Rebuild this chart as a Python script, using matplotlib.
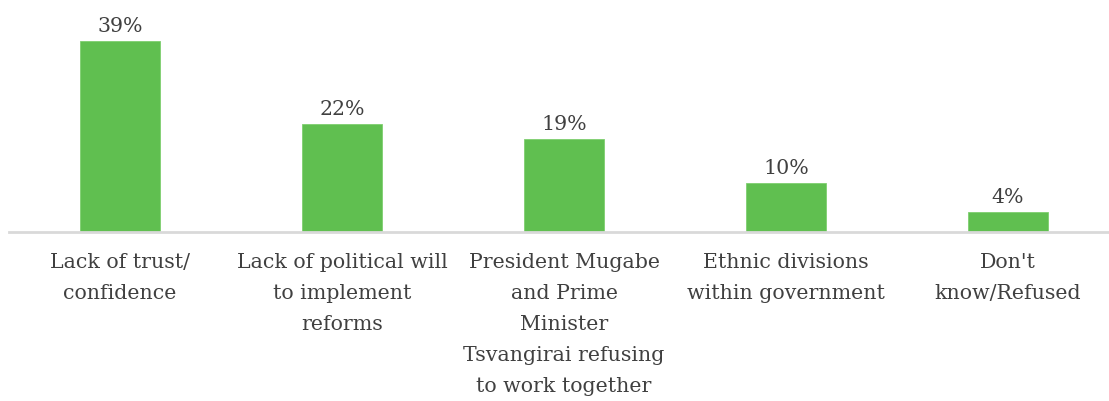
import numpy as np
import matplotlib.pyplot as plt

categories = [
    "Lack of trust/\nconfidence",
    "Lack of political will\nto implement\nreforms",
    "President Mugabe\nand Prime\nMinister\nTsvangirai refusing\nto work together",
    "Ethnic divisions\nwithin government",
    "Don't\nknow/Refused",
]
values = [39, 22, 19, 10, 4]

W, H = 1109, 402
fig = plt.figure(figsize=(W / 100, H / 100), dpi=100)
# axes spans -0.5..4.5 from x=9px to x=1119px, baseline at y=233px
ax = fig.add_axes([9 / W, (H - 233) / H, 1110 / W, 220.5 / H])

x = np.arange(len(values))
bars = ax.bar(x, values, width=0.36, color="#60BF50", edgecolor="#7fcf70", linewidth=0.6)

font = "DejaVu Serif"
fs = 14.8
for rect, v in zip(bars, values):
    ax.annotate(f"{v}%", (rect.get_x() + rect.get_width() / 2, v),
                xytext=(0, 4.5), textcoords="offset points",
                ha="center", va="bottom", fontsize=fs, color="#404040", family=font)

ax.set_xlim(-0.5, 4.5)
ax.set_ylim(0, 45)
ax.set_xticks(x)
ax.set_xticklabels(categories, fontsize=fs, color="#404040", family=font, linespacing=1.8)
ax.tick_params(axis="x", length=0, pad=14.5)
ax.set_yticks([])
for s in ["top", "right", "left"]:
    ax.spines[s].set_visible(False)
ax.spines["bottom"].set_color("#D9D9D9")
ax.spines["bottom"].set_linewidth(2)

fig.savefig("out.png", dpi=100)
